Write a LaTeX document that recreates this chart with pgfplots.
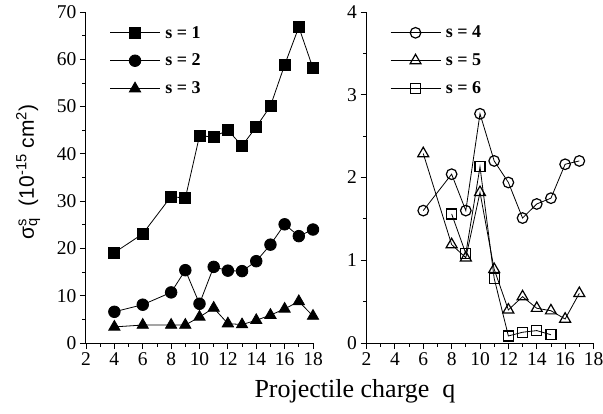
\documentclass[border=0pt]{standalone}
\usepackage{fontspec}
\setmainfont{Liberation Serif}
\newfontfamily\arial{Liberation Sans}
\usepackage{pgfplots}
\pgfplotsset{compat=1.18}

\pgfplotsset{
 myax/.style={
  scale only axis, clip=false,
  axis lines=left, axis line style={-, line width=1pt},
  tick align=outside, major tick length=6pt, minor tick length=3.5pt,
  every tick/.style={black, line width=0.8pt},
  xmin=2, xmax=18, xtick={2,4,...,18}, minor x tick num=1,
  ymin=0, minor y tick num=1,
  tick label style={font=\fontsize{19.5}{19.5}\selectfont},
  /pgf/number format/assume math mode=true,
  legend style={draw=none, fill=none, font=\fontsize{18}{18}\selectfont\bfseries,
    at={(0.09,0.97)}, anchor=north west, row sep=10.5pt,
    nodes={inner xsep=5pt}},
  legend cell align=left,
  legend image code/.code={\draw[mark repeat=2,mark phase=2] plot coordinates {(0pt,0pt)(25pt,0pt)(50pt,0pt)};},
  every axis plot/.append style={black, line width=0.8pt},
 }
}

\begin{document}
\begin{tikzpicture}[x=1pt,y=1pt]
\path[use as bounding box] (0,0) rectangle (603,413);

\begin{axis}[myax, at={(86pt,70pt)}, anchor=south west, width=227pt, height=331pt,
  ymax=70, ytick={0,10,...,70}]
\addplot[black, mark=square*, mark size=5.5pt, mark options={fill=black, solid}] coordinates {
(4,19.1)(6,23.1)(8,31.0)(9,30.6)(10,43.8)(11,43.6)(12,45.0)(13,41.7)(14,45.7)(15,50.1)(16,58.8)(17,66.8)(18,58.1)};
\addlegendentry{s = 1}
\addplot[black, mark=*, mark size=5.8pt, mark options={fill=black, solid}] coordinates {
(4,6.6)(6,8.1)(8,10.7)(9,15.4)(10,8.3)(11,16.1)(12,15.3)(13,15.2)(14,17.3)(15,20.8)(16,25.1)(17,22.6)(18,24.0)};
\addlegendentry{s = 2}
\addplot[black, mark=triangle*, mark size=6.5pt, mark options={fill=black, solid}] coordinates {
(4,3.4)(6,3.8)(8,3.8)(9,3.8)(10,5.5)(11,7.4)(12,4.1)(13,3.9)(14,4.8)(15,5.9)(16,7.2)(17,8.8)(18,5.7)};
\addlegendentry{s = 3}
\end{axis}

\begin{axis}[myax, at={(366.5pt,70pt)}, anchor=south west, width=227pt, height=331pt,
  ymax=4, ytick={0,1,...,4}]
\addplot[black, mark=o, mark size=5.3pt, mark options={fill=white, solid, line width=1.2pt}] coordinates {
(6,1.60)(8,2.04)(9,1.60)(10,2.77)(11,2.20)(12,1.94)(13,1.51)(14,1.68)(15,1.75)(16,2.16)(17,2.20)};
\addlegendentry{s = 4}
\addplot[black, mark=triangle, mark size=6.3pt, mark options={fill=white, solid, line width=1.2pt}] coordinates {
(6,2.29)(8,1.19)(9,1.03)(10,1.82)(11,0.89)(12,0.40)(13,0.56)(14,0.42)(15,0.39)(16,0.29)(17,0.60)};
\addlegendentry{s = 5}
\addplot[black, mark=square, mark size=5pt, mark options={fill=white, solid, line width=1.2pt}] coordinates {
(8,1.56)(9,1.08)(10,2.13)(11,0.78)(12,0.085)(13,0.13)(14,0.15)(15,0.10)};
\addlegendentry{s = 6}
\end{axis}

\node[rotate=90, anchor=base] at (34,241) {\arial\fontsize{21}{21}\selectfont σ\rlap{\textsuperscript{s}}\textsubscript{q}\ \ (10\textsuperscript{-15} cm\textsuperscript{2})};
\node[anchor=base] at (355,16) {\fontsize{26}{26}\selectfont Projectile charge\ \ q};
\end{tikzpicture}
\end{document}
